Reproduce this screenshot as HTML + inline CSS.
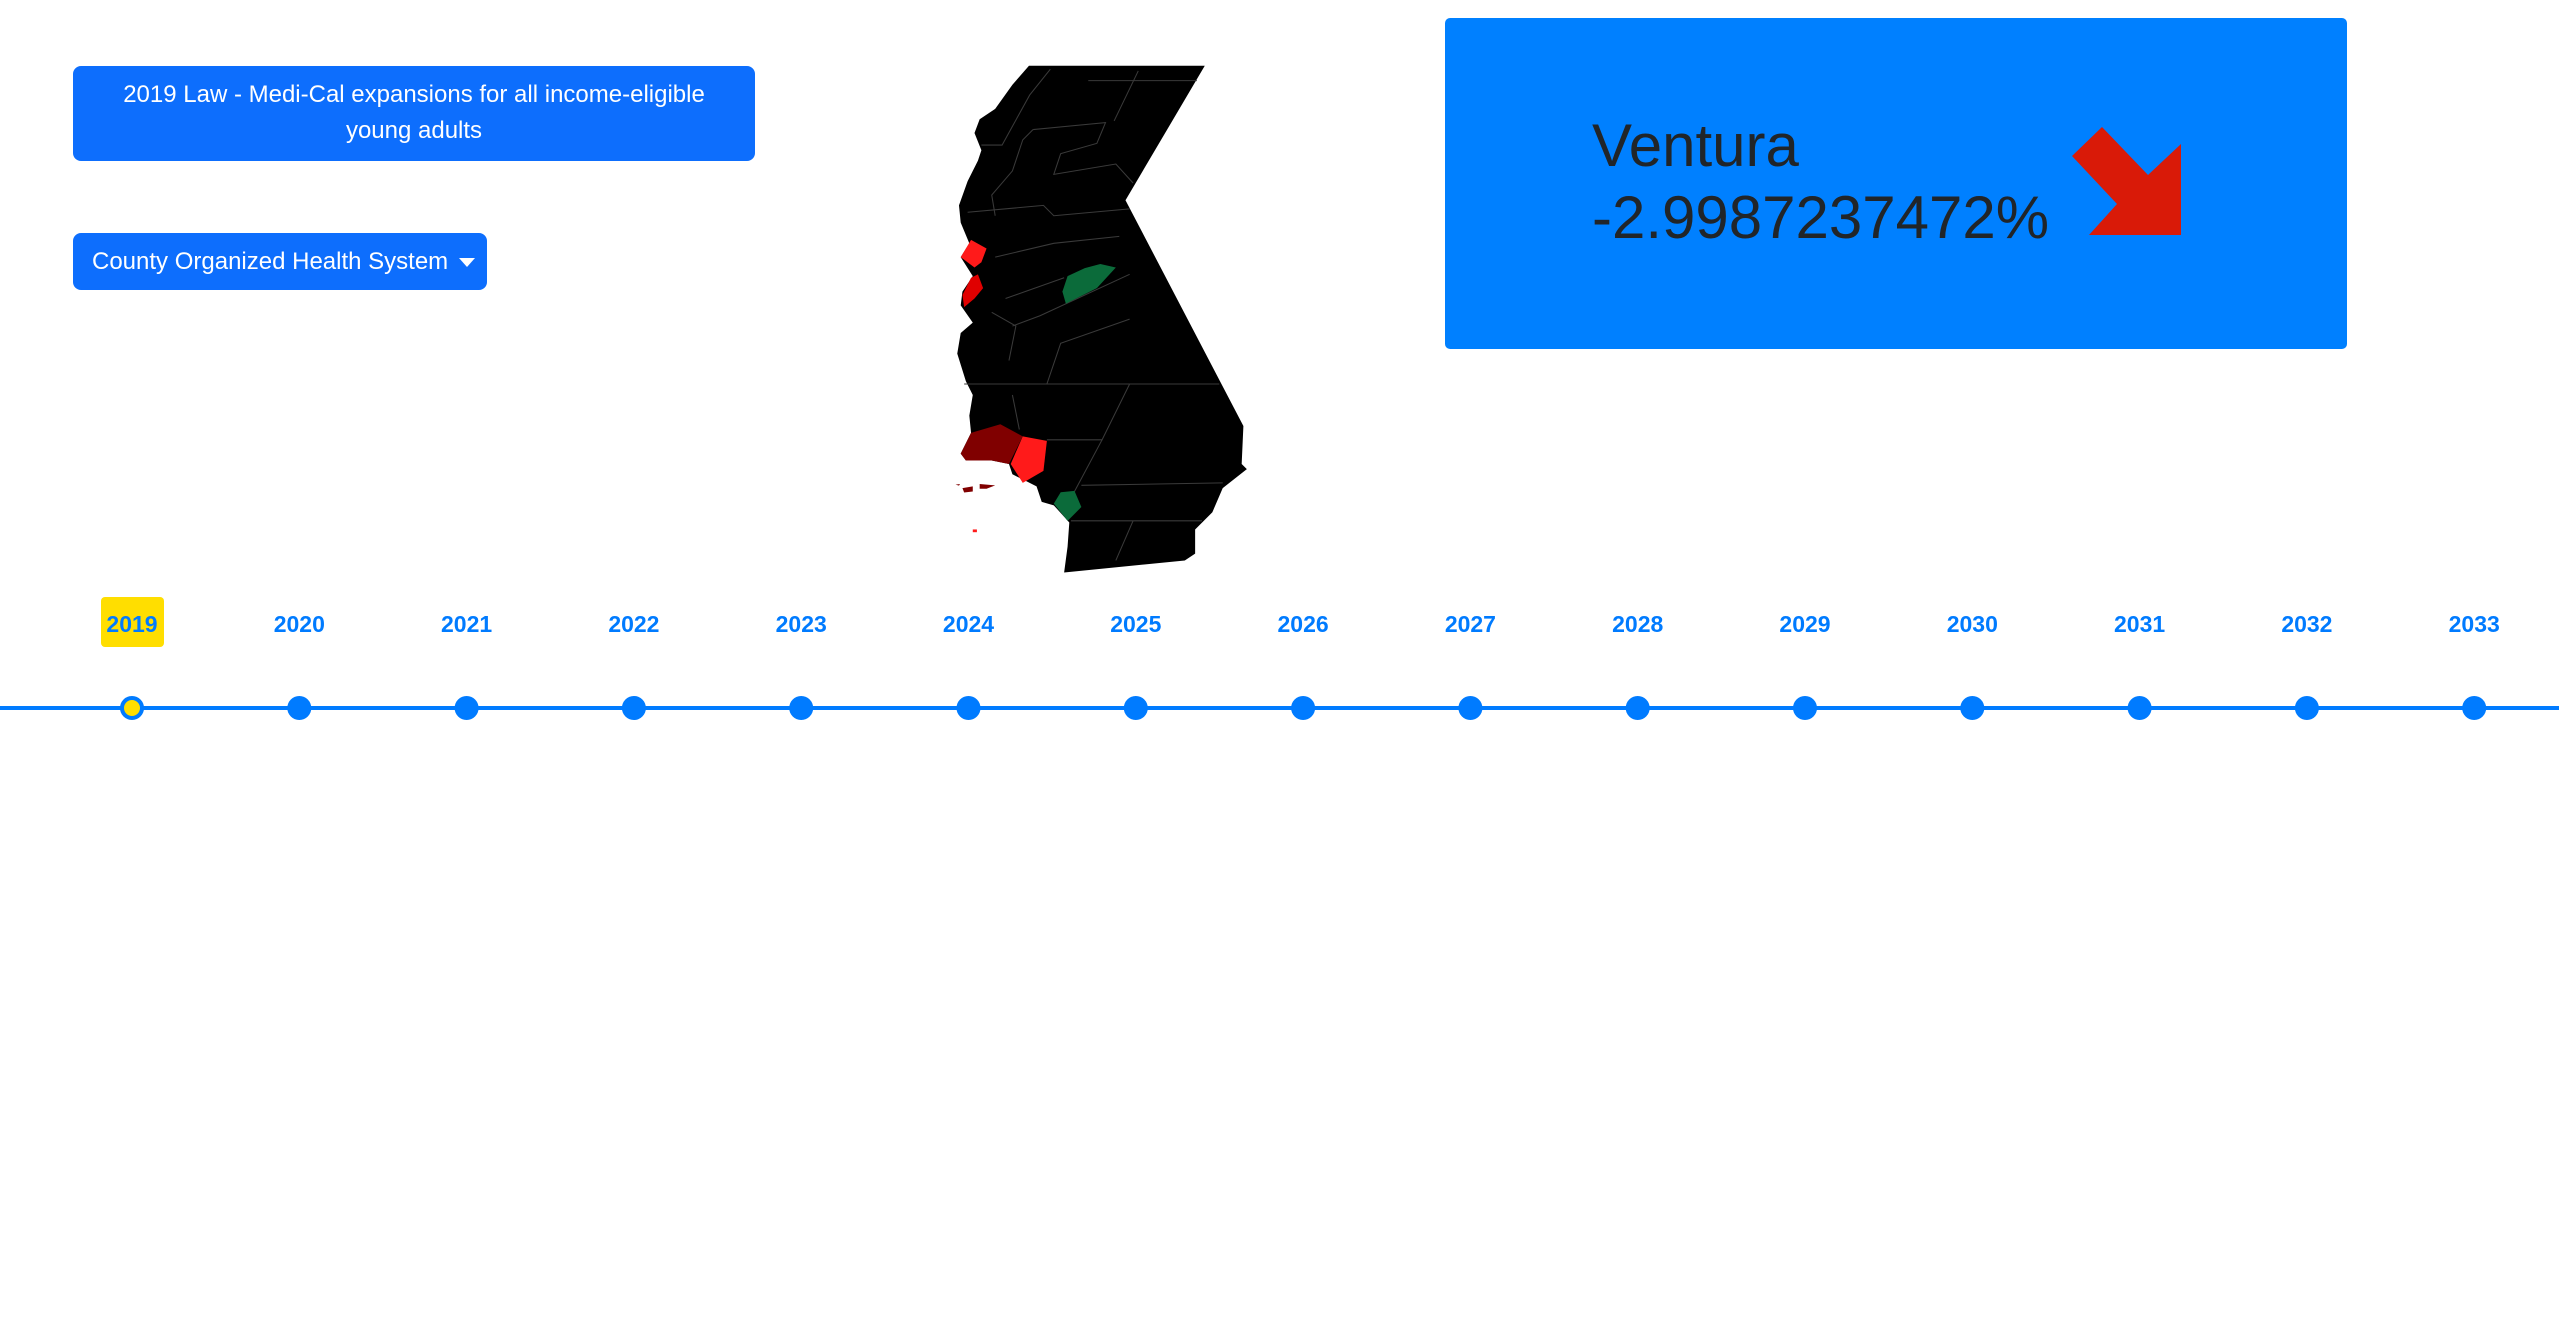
<!DOCTYPE html>
<html><head><meta charset="utf-8"><style>
body{margin:0;width:2559px;height:1321px;background:#fff;overflow:hidden;position:relative;font-family:"Liberation Sans",sans-serif}
.btn{position:absolute;background:#0d6efd;color:#fff;border-radius:8px;text-align:center;box-sizing:border-box}
</style></head><body>
<div class="btn" style="left:73px;top:66px;width:682px;height:95px;font-size:24px;line-height:36px;padding-top:11px">2019 Law - Medi-Cal expansions for all income-eligible<br>young adults</div>
<div class="btn" style="left:73px;top:233px;width:414px;height:57px;font-size:24px;line-height:57px;text-align:left;padding-left:19px">County Organized Health System <span style="display:inline-block;width:0;height:0;border-left:8px solid transparent;border-right:8px solid transparent;border-top:9px solid #fff;vertical-align:middle;margin-left:4px"></span></div>

<svg style="position:absolute;left:909px;top:50px" width="393" height="559" viewBox="0 0 1140 1620">
<path fill="#000" d="M348,45 L858,45 L628,435 L970,1090 L965,1200 L980,1215 L910,1270 L880,1340 L830,1390 L830,1460 L800,1480 L450,1515 L460,1440 L465,1370 L420,1320 L385,1310 L370,1265 L340,1250 L300,1230 L290,1200 L240,1190 L165,1190 L150,1170 L180,1110 L175,1060 L185,1000 L165,960 L140,880 L150,820 L185,790 L150,740 L155,700 L185,655 L150,600 L175,560 L150,500 L145,450 L170,380 L200,320 L210,290 L190,240 L205,200 L250,170 L300,100 Z"/>
<g stroke="#3a3a3a" stroke-width="3" fill="none">
<path d="M210,275 L270,275 L350,130 L410,55"/><path d="M520,88 L835,88"/><path d="M595,205 L665,60"/>
<path d="M360,230 L570,210 L545,270 L440,300 L420,360 L600,330 L650,385"/>
<path d="M170,470 L390,450 L420,480 L640,460"/><path d="M250,480 L240,420 L300,350 L330,260 L360,230"/>
<path d="M250,600 L420,560 L610,540"/><path d="M280,720 L450,660"/><path d="M300,800 L380,770 L640,650"/>
<path d="M160,968 L900,968"/><path d="M640,968 L560,1130 L400,1130"/><path d="M560,1130 L480,1280"/>
<path d="M500,1262 L910,1255"/><path d="M470,1365 L850,1365"/><path d="M650,1365 L600,1480"/>
<path d="M300,1000 L320,1100"/><path d="M290,900 L310,800 L240,760"/><path d="M400,968 L440,850 L640,780"/>
</g>
<path fill="#ff1a1a" d="M150,600 L180,550 L225,575 L210,615 L190,630 Z"/>
<path fill="#e00000" d="M180,660 L200,650 L215,690 L190,720 L160,745 L155,710 Z"/>
<path fill="#800000" d="M150,1170 L180,1110 L265,1085 L330,1120 L290,1200 L240,1190 L165,1190 Z"/>
<path fill="#ff1a1a" d="M330,1120 L400,1133 L390,1220 L330,1255 L295,1200 Z"/>
<path fill="#0b6b3a" d="M460,655 L510,632 L555,620 L600,630 L545,690 L455,735 L445,700 Z"/>
<path fill="#0b6b3a" d="M420,1315 L440,1282 L480,1278 L500,1325 L460,1365 Z"/>
<path fill="#800000" d="M155,1270 L185,1265 L185,1280 L160,1283 Z M205,1258 L250,1262 L225,1272 L205,1272 Z M135,1260 L148,1258 L145,1263 Z"/>
<rect x="185" y="1390" width="12" height="8" fill="#ff1a1a"/>
</svg>

<div style="position:absolute;left:1445px;top:18px;width:902px;height:331px;background:#0080ff;border-radius:5px">
<div style="position:absolute;left:147px;top:92px;font-size:60px;line-height:72px;color:#212529">Ventura<br>-2.9987237472%</div>
<svg style="position:absolute;left:627px;top:109px" width="109" height="108" viewBox="0 0 109 108">
<polygon points="0,29 30,0 76,48 109,17 109,108 17,108 45,77" fill="#d91a08"/></svg>
</div>

<svg id="tl" style="position:absolute;left:0;top:580px" width="2559" height="160"></svg>
<script>
const years=[2019,2020,2021,2022,2023,2024,2025,2026,2027,2028,2029,2030,2031,2032,2033];
const selectedYear=2019;
const NS="http://www.w3.org/2000/svg";
const svg=document.getElementById('tl');
const x0=132,step=167.3,lineY=128,labelY=44;
const xs=i=>x0+i*step;
const line=document.createElementNS(NS,'line');


line.setAttribute('x1',0);line.setAttribute('x2',2559);line.setAttribute('y1',lineY);line.setAttribute('y2',lineY);
line.setAttribute('stroke','#007bff');line.setAttribute('stroke-width',4);svg.appendChild(line);
years.forEach((y,i)=>{
  const x=xs(i);
  if(y===selectedYear){
    const r=document.createElementNS(NS,'rect');
    
    
    r.setAttribute('x',x-31);r.setAttribute('y',labelY-27);r.setAttribute('width',63);r.setAttribute('height',50);r.setAttribute('rx',4);r.setAttribute('fill','#ffde00');svg.appendChild(r);
  }
  const t=document.createElementNS(NS,'text');
  
  
  t.setAttribute('x',x);t.setAttribute('y',labelY+8);t.setAttribute('text-anchor','middle');t.setAttribute('font-size','23');t.setAttribute('font-weight','bold');t.setAttribute('fill','#007bff');t.setAttribute('font-family','Liberation Sans, sans-serif');
  t.textContent=y;svg.appendChild(t);
  const c=document.createElementNS(NS,'circle');
  
  
  c.setAttribute('cx',x);c.setAttribute('cy',lineY);c.setAttribute('r',12);
  if(y===selectedYear){c.setAttribute('fill','#ffde00');c.setAttribute('stroke','#007bff');c.setAttribute('stroke-width',4);c.setAttribute('r',10);}
  else c.setAttribute('fill','#007bff');
  svg.appendChild(c);
});
</script>
</body></html>
